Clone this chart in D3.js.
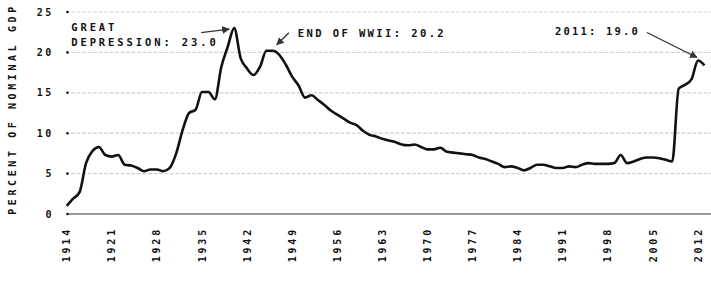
<!DOCTYPE html>
<html>
<head>
<meta charset="utf-8">
<script src="https://cdn.jsdelivr.net/npm/d3@7/dist/d3.min.js"></script>
<style>
body { margin: 0; background: #fff; }
text { font-family: "DejaVu Sans Mono", monospace; fill: #111; }
</style>
</head>
<body>
<svg id="chart"></svg>
<script>
const firstYear = 1914
// percent of nominal GDP, one value per year from 1914
const spending = [
  1.0, 1.9, 2.7, 6.3, 7.8, 8.3, 7.3, 7.1, 7.3, 6.1,
  6.0, 5.7, 5.3, 5.5, 5.5, 5.3, 5.7, 7.5, 10.4, 12.5,
  12.9, 15.1, 15.1, 14.2, 18.2, 20.7, 23.0, 19.3, 18.0, 17.2,
  18.2, 20.2, 20.2, 19.7, 18.5, 17.0, 15.9, 14.4, 14.7, 14.1,
  13.5, 12.8, 12.3, 11.8, 11.3, 11.0, 10.3, 9.8, 9.6, 9.3,
  9.1, 8.9, 8.6, 8.5, 8.6, 8.3, 8.0, 8.0, 8.2, 7.7,
  7.6, 7.5, 7.4, 7.3, 7.0, 6.8, 6.5, 6.2, 5.8, 5.9,
  5.7, 5.4, 5.7, 6.1, 6.1, 5.9, 5.7, 5.7, 5.9, 5.8,
  6.1, 6.3, 6.2, 6.2, 6.2, 6.3, 7.3, 6.3, 6.5, 6.8,
  7.0, 7.0, 6.9, 6.7, 6.5, 15.5, 16.0, 16.7, 19.0, 18.4
]
const yTicks = [0, 5, 10, 15, 20, 25]
const xTicks = [1914, 1921, 1928, 1935, 1942, 1949, 1956, 1963, 1970, 1977, 1984, 1991, 1998, 2005, 2012]
const yTitle = 'PERCENT OF NOMINAL GDP'

// annotations: lines of text, the point the arrow hits
const notes = [
  {lines: ['GREAT', 'DEPRESSION: 23.0'], year: 1940, value: 23.0},
  {lines: ['END OF WWII: 20.2'], year: 1946, value: 20.2},
  {lines: ['2011: 19.0'], year: 2012.3, value: 19.0}
]

const data = spending.map((v, i) => ({year: firstYear + i, value: v}))

const width = 711
const height = 281

const svg = d3.select('#chart')
  .attr('width', width)
  .attr('height', height)

const x = d3.scaleLinear().domain([1914, 2012]).range([66.7, 698])
const y = d3.scaleLinear().domain([0, 25]).range([214, 12])

// grid
svg.append('g')
  .selectAll('line')
  .data(yTicks.filter(d => d > 0))
  .enter()
  .append('line')
  .attr('x1', 71)
  .attr('x2', width)
  .attr('y1', d => y(d))
  .attr('y2', d => y(d))
  .attr('stroke', '#d2d2d2')
  .attr('stroke-width', 1.2)
  .attr('stroke-dasharray', '4,1.5')

// baseline
svg.append('line')
  .attr('x1', 67)
  .attr('x2', width)
  .attr('y1', y(0))
  .attr('y2', y(0))
  .attr('stroke', '#9a9a9a')
  .attr('stroke-width', 2)

// y axis: dots + labels
const yAxis = svg.append('g').attr('id', 'y-axis')
yAxis.selectAll('circle')
  .data(yTicks)
  .enter()
  .append('circle')
  .attr('cx', 67.5)
  .attr('cy', d => y(d))
  .attr('r', 1.3)
  .attr('fill', '#111')

yAxis.selectAll('text')
  .data(yTicks)
  .enter()
  .append('text')
  .attr('x', 54)
  .attr('y', d => y(d))
  .attr('dy', '0.36em')
  .attr('text-anchor', 'end')
  .attr('font-size', 10)
  .attr('font-weight', 'bold')
  .attr('letter-spacing', 2.6)
  .text(d => d)

svg.append('text')
  .attr('transform', 'translate(12,109) rotate(-90)')
  .attr('dy', '0.36em')
  .attr('text-anchor', 'middle')
  .attr('font-size', 10)
  .attr('font-weight', 'bold')
  .attr('letter-spacing', 3.6)
  .text(yTitle)

// x axis labels
svg.append('g')
  .attr('id', 'x-axis')
  .selectAll('text')
  .data(xTicks)
  .enter()
  .append('text')
  .attr('transform', d => `translate(${x(d)},227) rotate(-90)`)
  .attr('dy', '0.36em')
  .attr('text-anchor', 'end')
  .attr('font-size', 10)
  .attr('font-weight', 'bold')
  .attr('letter-spacing', 2.8)
  .text(d => d)

// the line
const line = d3.line()
  .x(d => x(d.year))
  .y(d => y(d.value))
  .curve(d3.curveMonotoneX)

svg.append('path')
  .datum(data)
  .attr('d', line)
  .attr('fill', 'none')
  .attr('stroke', '#111')
  .attr('stroke-width', 2.6)
  .attr('stroke-linejoin', 'round')

// arrowhead
svg.append('defs').append('marker')
  .attr('id', 'arrow')
  .attr('viewBox', '0 0 10 10')
  .attr('refX', 9)
  .attr('refY', 5)
  .attr('markerWidth', 6)
  .attr('markerHeight', 6)
  .attr('orient', 'auto')
  .append('path')
  .attr('d', 'M0,0 L10,5 L0,10 z')
  .attr('fill', '#333')

// annotations (offsets of first text baseline and arrow, relative to the point)
const noteStyle = [
  {tx: -163, ty: 2.5, ls: 2.9, ax1: -33, ay1: 4.5, ax2: -5, ay2: 1},
  {tx: 25, ty: -13.3, ls: 2.4, ax1: 16, ay1: -18, ax2: 4, ay2: -6},
  {tx: -145, ty: -25, ls: 2.2, ax1: -53, ay1: -28, ax2: -3, ay2: -3}
]

notes.forEach((n, i) => {
  const s = noteStyle[i]
  const px = x(n.year)
  const py = y(n.value)
  const t = svg.append('text')
    .attr('x', px + s.tx)
    .attr('y', py + s.ty)
    .attr('font-size', 10.5)
    .attr('font-weight', 'bold')
    .attr('letter-spacing', s.ls)
  n.lines.forEach((l, j) => {
    t.append('tspan')
      .attr('x', px + s.tx)
      .attr('dy', j === 0 ? 0 : 15)
      .text(l)
  })
  svg.append('line')
    .attr('x1', px + s.ax1)
    .attr('y1', py + s.ay1)
    .attr('x2', px + s.ax2)
    .attr('y2', py + s.ay2)
    .attr('stroke', '#333')
    .attr('stroke-width', 1.3)
    .attr('marker-end', 'url(#arrow)')
})
</script>
</body>
</html>
